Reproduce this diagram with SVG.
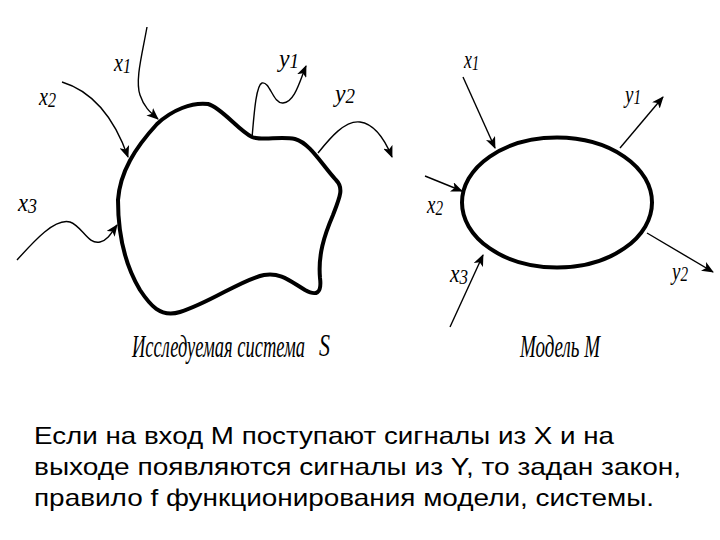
<svg xmlns="http://www.w3.org/2000/svg" width="720" height="540" viewBox="0 0 720 540">
<style>
.bd{fill:none;stroke:#000;stroke-width:4;stroke-linejoin:round}
.ar{fill:none;stroke:#000;stroke-width:1.4;marker-end:url(#ah)}
.lb{font-family:"Liberation Serif",serif;font-style:italic;font-size:25px;fill:#000}
.sb{font-size:20px}
.cap{font-family:"Liberation Serif",serif;font-style:italic;font-size:31px;fill:#000}
.para{font-family:"Liberation Sans",Arial,sans-serif;font-size:24px;fill:#000}
</style>
<defs>
<marker id="ah" viewBox="0 0 12 10" refX="11" refY="5" markerWidth="12" markerHeight="10" markerUnits="userSpaceOnUse" orient="auto">
<path d="M0,0 L12,5 L0,10 L3,5 Z" fill="#000"/>
</marker>
</defs>
<rect width="720" height="540" fill="#fff"/>
<g id="system-S">
<path class="bd" d="M118,200 C120,172 135,148 157,124 C172,110 192,102 208,104 C222,108 238,130 252,137 C262,141 280,136 295,139 C310,143 322,165 336,180 C344,188 340,197 333,215 C324,236 318,255 320,278 C322,294 316,296 305,290 C290,281 280,272 264,275 C242,279 212,302 180,312 C160,318 150,305 140,290 C128,270 118,240 118,200 Z"/>
<text class="cap" x="132" y="357" textLength="173" lengthAdjust="spacingAndGlyphs">Исследуемая система</text>
<text class="cap" x="319" y="356" textLength="11" lengthAdjust="spacingAndGlyphs">S</text>
</g>
<g id="model-M">
<ellipse class="bd" cx="557" cy="202.5" rx="95" ry="65"/>
<text class="cap" x="520" y="357" textLength="80" lengthAdjust="spacingAndGlyphs">Модель М</text>
</g>
<g id="connectors">
<path class="ar" d="M147,27 C142,55 135,80 140,95 C144,107 150,112 158,119"/>
<path class="ar" d="M62,82 C95,92 115,120 128,157"/>
<path class="ar" d="M17,260 C35,240 55,218 70,222 C82,226 88,245 100,242 C108,240 112,232 117,225"/>
<path class="ar" d="M252,138 C254,115 256,85 262,83 C270,81 273,104 283,103 C295,102 300,80 306,66"/>
<path class="ar" d="M318,153 C330,138 345,120 360,122 C375,124 385,140 392,157"/>
<path class="ar" d="M463,77 L495,148"/>
<path class="ar" d="M425,176 L462,191"/>
<path class="ar" d="M450,327 L483,255"/>
<path class="ar" d="M620,148 L663,97"/>
<path class="ar" d="M647,233 L713,272"/>
</g>
<g id="labels">
<text class="lb" x="114" y="71" textLength="17" lengthAdjust="spacingAndGlyphs">x<tspan class="sb" dy="2">1</tspan></text>
<text class="lb" x="39" y="105" textLength="17" lengthAdjust="spacingAndGlyphs">x<tspan class="sb" dy="2">2</tspan></text>
<text class="lb" x="18" y="211" textLength="19" lengthAdjust="spacingAndGlyphs">x<tspan class="sb" dy="2">3</tspan></text>
<text class="lb" x="279" y="67" textLength="20" lengthAdjust="spacingAndGlyphs">y<tspan class="sb" dy="1">1</tspan></text>
<text class="lb" x="335" y="102" textLength="20" lengthAdjust="spacingAndGlyphs">y<tspan class="sb" dy="1">2</tspan></text>
<text class="lb" x="464" y="68" textLength="15" lengthAdjust="spacingAndGlyphs">x<tspan class="sb" dy="2">1</tspan></text>
<text class="lb" x="427" y="213" textLength="16" lengthAdjust="spacingAndGlyphs">x<tspan class="sb" dy="2">2</tspan></text>
<text class="lb" x="450" y="282" textLength="18" lengthAdjust="spacingAndGlyphs">x<tspan class="sb" dy="2">3</tspan></text>
<text class="lb" x="625" y="103" textLength="16" lengthAdjust="spacingAndGlyphs">y<tspan class="sb" dy="1">1</tspan></text>
<text class="lb" x="672" y="280" textLength="16" lengthAdjust="spacingAndGlyphs">y<tspan class="sb" dy="1">2</tspan></text>
</g>
<g id="description">
<text class="para" x="34" y="444" textLength="580" lengthAdjust="spacingAndGlyphs">Если на вход М поступают сигналы из Х и на</text>
<text class="para" x="34" y="475" textLength="647" lengthAdjust="spacingAndGlyphs">выходе появляются сигналы из Y, то задан закон,</text>
<text class="para" x="34" y="506" textLength="620" lengthAdjust="spacingAndGlyphs">правило f функционирования модели, системы.</text>
</g>
</svg>
